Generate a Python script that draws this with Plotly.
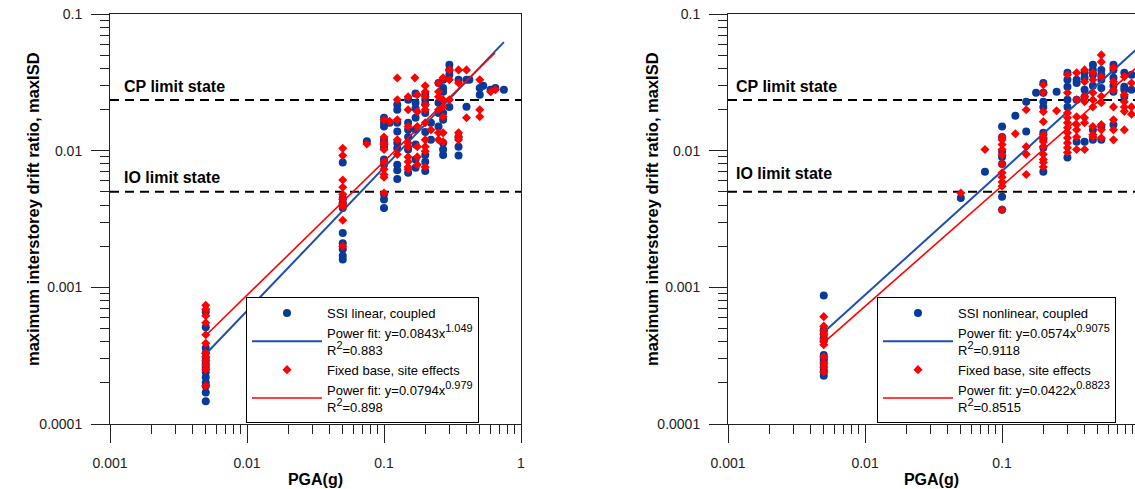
import plotly.graph_objects as go

# ---------------- data ----------------
# Left panel: SSI linear, coupled (blue) -- (PGA, [maxISD values])
left_ssi = [
    (0.005, [0.00066, 0.00051, 0.00036, 0.00033, 0.0003, 0.00028, 0.00026, 0.00024, 0.00022, 0.0002, 0.00019, 0.00017, 0.000147]),
    (0.05, [0.0082, 0.0045, 0.0042, 0.0040, 0.0038, 0.0025, 0.0021, 0.0019, 0.0017, 0.0016]),
    (0.075, [0.0117]),
    (0.1, [0.0174, 0.016, 0.015, 0.012, 0.0114, 0.0107, 0.0086, 0.0079, 0.0048, 0.0044, 0.0038]),
    (0.11, [0.0160]),
    (0.125, [0.0217, 0.0199, 0.016, 0.0138, 0.0114, 0.0104, 0.0079, 0.0072, 0.0062]),
    (0.15, [0.0236, 0.016, 0.0142, 0.0126, 0.0102, 0.0069]),
    (0.17, [0.0262, 0.0224, 0.0204, 0.0174, 0.0142, 0.0111, 0.0086, 0.0075]),
    (0.2, [0.0256, 0.0236, 0.0219, 0.0189, 0.0137, 0.0093, 0.0083, 0.0071]),
    (0.22, [0.016, 0.012]),
    (0.25, [0.0313, 0.0224, 0.0189, 0.015]),
    (0.27, [0.0330, 0.0288, 0.0270, 0.0189, 0.0168, 0.0114, 0.0102, 0.0093]),
    (0.3, [0.0425, 0.039, 0.0359, 0.0209]),
    (0.35, [0.033, 0.0126, 0.0107, 0.0092]),
    (0.4, [0.033, 0.021]),
    (0.42, [0.033]),
    (0.5, [0.0288, 0.0256]),
    (0.53, [0.0298]),
    (0.6, [0.0279]),
    (0.65, [0.0288]),
    (0.75, [0.0279]),
]
# Left panel: Fixed base, site effects (red)
left_fixed = [
    (0.005, [0.00074, 0.00069, 0.00062, 0.00055, 0.00045, 0.00039, 0.00033, 0.00031, 0.00029, 0.00027, 0.00025, 0.00019]),
    (0.05, [0.0104, 0.0092, 0.0061, 0.0054, 0.0048, 0.0044, 0.0041, 0.0039, 0.0031, 0.0020]),
    (0.075, [0.0112]),
    (0.1, [0.0168, 0.0126, 0.0114, 0.0111, 0.0102, 0.0083, 0.0073, 0.0067, 0.0064, 0.0049]),
    (0.11, [0.0164]),
    (0.125, [0.034, 0.0236, 0.0168, 0.0120, 0.0094]),
    (0.15, [0.0248, 0.0199, 0.0150, 0.0114, 0.0107, 0.0090, 0.0083, 0.0076, 0.0073]),
    (0.168, [0.0341]),
    (0.175, [0.0256, 0.0193, 0.0150, 0.0107, 0.0090, 0.0079]),
    (0.2, [0.0298, 0.0270, 0.0248, 0.0217, 0.0199, 0.0160, 0.0120, 0.0107, 0.0099, 0.0076]),
    (0.22, [0.0142]),
    (0.25, [0.0313, 0.0270, 0.0248, 0.0199, 0.0135, 0.0120]),
    (0.27, [0.0341, 0.0236, 0.0209, 0.0177, 0.0135, 0.0116]),
    (0.3, [0.039, 0.033, 0.0236]),
    (0.35, [0.039, 0.0313, 0.0135, 0.0120, 0.0126]),
    (0.4, [0.0390, 0.0174]),
    (0.5, [0.033, 0.0199, 0.0177]),
    (0.6, [0.0270]),
    (0.65, [0.0279]),
]
# Right panel: SSI nonlinear, coupled (blue)
right_ssi = [
    (0.005, [0.00087, 0.00049, 0.00046, 0.00043, 0.00041, 0.00032, 0.0003, 0.00029, 0.00027, 0.00025, 0.00024, 0.000225]),
    (0.05, [0.0045]),
    (0.075, [0.0070]),
    (0.1, [0.0150, 0.0126, 0.0098, 0.0090, 0.0080, 0.0046, 0.0037]),
    (0.125, [0.0180]),
    (0.15, [0.0228, 0.0138]),
    (0.177, [0.0265]),
    (0.2, [0.0313, 0.0265, 0.0228, 0.0209, 0.0135, 0.0121, 0.0105, 0.0070]),
    (0.25, [0.0270]),
    (0.3, [0.0371, 0.033, 0.0293, 0.0236, 0.0209, 0.0089]),
    (0.35, [0.033, 0.0313, 0.0236, 0.0116]),
    (0.4, [0.0371, 0.0341, 0.0279, 0.0248, 0.0116]),
    (0.46, [0.0425, 0.039, 0.0359, 0.0298, 0.0142, 0.0120]),
    (0.53, [0.039, 0.0359, 0.033, 0.0288, 0.0150, 0.0120]),
    (0.65, [0.0425, 0.039, 0.0341, 0.0298, 0.0270, 0.0155]),
    (0.78, [0.0371, 0.0293, 0.0279, 0.0248]),
    (0.88, [0.0359, 0.0279]),
]
# Right panel: Fixed base, site effects (red)
right_fixed = [
    (0.005, [0.00061, 0.00052, 0.00048, 0.00045, 0.00042, 0.0004, 0.00038, 0.00031, 0.00028, 0.00026, 0.00024]),
    (0.05, [0.0049]),
    (0.075, [0.0102]),
    (0.1, [0.0126, 0.012, 0.0111, 0.0102, 0.0093, 0.0080, 0.0069, 0.0064, 0.0059, 0.0055, 0.0037]),
    (0.125, [0.0133]),
    (0.15, [0.0199, 0.0107, 0.0094, 0.0067]),
    (0.2, [0.0303, 0.0265, 0.0193, 0.0163, 0.0131, 0.0124, 0.0116, 0.0107, 0.0094, 0.0086, 0.0082, 0.0076]),
    (0.25, [0.0196]),
    (0.3, [0.0359, 0.0265, 0.0189, 0.0174, 0.016, 0.0147, 0.0135, 0.0124, 0.0114, 0.0105, 0.0097]),
    (0.35, [0.0371, 0.0236, 0.0177, 0.0155, 0.0142, 0.0126, 0.0102]),
    (0.4, [0.039, 0.0320, 0.0248, 0.0228, 0.0174, 0.0160, 0.0102]),
    (0.46, [0.0371, 0.033, 0.0265, 0.0236, 0.0209, 0.0150, 0.0131, 0.0126]),
    (0.53, [0.0502, 0.0446, 0.0348, 0.0250, 0.0224, 0.0155, 0.0142, 0.0124]),
    (0.65, [0.0405, 0.0320, 0.0278, 0.0209, 0.0168, 0.0142, 0.0120]),
    (0.78, [0.0348, 0.0256, 0.0228, 0.0209, 0.0194, 0.0142]),
    (0.88, [0.0313, 0.0209, 0.0185]),
]

# Power-fit lines (end points of the straight log-log fits)
left_ssi_fit_x = [0.005, 0.75]
left_ssi_fit_y = [0.000325, 0.0623]
left_fixed_fit_x = [0.005, 0.646]
left_fixed_fit_y = [0.000444, 0.0518]
right_ssi_fit_x = [0.005, 1.0]
right_ssi_fit_y = [0.000469, 0.0574]
right_fixed_fit_x = [0.005, 1.0]
right_fixed_fit_y = [0.000394, 0.0422]

limit_cp = 0.0235
limit_io = 0.005

x_ticks = [0.001, 0.01, 0.1, 1]
x_tick_text = ["0.001", "0.01", "0.1", "1"]
y_ticks = [0.0001, 0.001, 0.01, 0.1]
y_tick_text = ["0.0001", "0.001", "0.01", "0.1"]

SUP = '<sup><span style="font-size:11px">{}</span></sup>'
legend_left = ["SSI linear, coupled",
               "Power fit: y=0.0843x" + SUP.format("1.049") + "<br>R" + SUP.format("2") + "=0.883",
               "Fixed base, site effects",
               "Power fit: y=0.0794x" + SUP.format("0.979") + "<br>R" + SUP.format("2") + "=0.898"]
legend_right = ["SSI nonlinear, coupled",
                "Power fit: y=0.0574x" + SUP.format("0.9075") + "<br>R" + SUP.format("2") + "=0.9118",
                "Fixed base, site effects",
                "Power fit: y=0.0422x" + SUP.format("0.8823") + "<br>R" + SUP.format("2") + "=0.8515"]

# ---------------- styling ----------------
W, H = 1135, 489
BLUE = "#073a9a"
BLUE_LINE = "#1f4fae"
RED = "#ff0000"
FONT = "Liberation Sans, Arial, sans-serif"


def flatten(groups):
    xs, ys = [], []
    for pga, vals in groups:
        for v in vals:
            xs.append(pga)
            ys.append(v)
    return xs, ys


minor_vals = [m * 10.0 ** e for e in range(-4, 1) for m in range(2, 10)]

fig = go.Figure()

panels = [
    ("x", "y", "legend", left_ssi, left_fixed,
     (left_ssi_fit_x, left_ssi_fit_y), (left_fixed_fit_x, left_fixed_fit_y), legend_left),
    ("x2", "y2", "legend2", right_ssi, right_fixed,
     (right_ssi_fit_x, right_ssi_fit_y), (right_fixed_fit_x, right_fixed_fit_y), legend_right),
]

for xa, ya, lg, ssi, fixed, sfit, ffit, names in panels:
    bx, by = flatten(ssi)
    rx, ry = flatten(fixed)
    fig.add_trace(go.Scatter(x=bx, y=by, mode="markers", name=names[0], legend=lg,
                             marker=dict(symbol="circle", size=8, color=BLUE),
                             xaxis=xa, yaxis=ya))
    fig.add_trace(go.Scatter(x=sfit[0], y=sfit[1], mode="lines", name=names[1], legend=lg,
                             line=dict(color=BLUE_LINE, width=2), xaxis=xa, yaxis=ya))
    fig.add_trace(go.Scatter(x=rx, y=ry, mode="markers", name=names[2], legend=lg,
                             marker=dict(symbol="diamond", size=7, color=RED),
                             xaxis=xa, yaxis=ya))
    fig.add_trace(go.Scatter(x=ffit[0], y=ffit[1], mode="lines", name=names[3], legend=lg,
                             line=dict(color=RED, width=1.6), xaxis=xa, yaxis=ya))
    for lim in (limit_cp, limit_io):
        fig.add_shape(type="line", xref=f"{xa} domain", yref=ya, x0=0, x1=1, y0=lim, y1=lim,
                      line=dict(color="black", width=2, dash="9px,6px"), layer="below")

# pixel geometry -> paper fractions
def px(v):
    return v / W


def py(v):
    return 1 - v / H


ydom = [py(424), py(14)]
xdom1 = [px(110), px(521)]
xdom2 = [px(728), 1.0]

axis_common = dict(type="log", showgrid=False, zeroline=False, showline=True, automargin=False,
                   linecolor="#222", linewidth=1, ticks="outside", ticklen=18, tickwidth=1,
                   tickcolor="#222", tickfont=dict(family=FONT, size=14, color="#222"),
                   minor=dict(tickvals=minor_vals, ticks="outside", ticklen=9,
                              tickwidth=1, tickcolor="#222", showgrid=False))

xcommon = dict(axis_common, tickvals=x_ticks, ticktext=x_tick_text, ticklabelstandoff=8,
               title=dict(text="<b>PGA(g)</b>", font=dict(family=FONT, size=16, color="black"),
                          standoff=4))
ycommon = dict(axis_common, tickvals=y_ticks, ticktext=y_tick_text, ticklabelstandoff=6,
               range=[-4, -1])

fig.update_layout(
    width=W, height=H,
    margin=dict(l=0, r=0, t=0, b=0, autoexpand=False),
    paper_bgcolor="white", plot_bgcolor="white",
    font=dict(family=FONT, size=13, color="black"),
    xaxis=dict(xcommon, domain=xdom1, range=[-3, 0], anchor="y", mirror=True),
    yaxis=dict(ycommon, domain=ydom, anchor="x", mirror=True),
    xaxis2=dict(xcommon, domain=xdom2, range=[-3, -0.03], anchor="y2", mirror=True),
    yaxis2=dict(ycommon, domain=ydom, anchor="x2", mirror=False),
    legend=dict(x=px(246), y=py(297), xanchor="left", yanchor="top",
                bgcolor="white", bordercolor="black", borderwidth=1,
                font=dict(family=FONT, size=13, color="black"), itemwidth=70,
                tracegroupgap=0),
    legend2=dict(x=px(877), y=py(297), xanchor="left", yanchor="top",
                 bgcolor="white", bordercolor="black", borderwidth=1,
                 font=dict(family=FONT, size=13, color="black"), itemwidth=70,
                 tracegroupgap=0),
)

# y-axis titles
for xt in (33, 652):
    fig.add_annotation(text="<b>maximum interstorey drift ratio, maxISD</b>",
                       xref="paper", yref="paper", x=px(xt), y=py(209),
                       xanchor="center", yanchor="middle", textangle=-90, showarrow=False,
                       font=dict(family=FONT, size=16.5, color="black"))

ann_font = dict(family=FONT, size=16, color="black")
for x0, y_cp, y_io in ((122, 87, 177), (734, 86, 174)):
    fig.add_annotation(text="<b>CP limit state</b>", xref="paper", yref="paper",
                       x=px(x0), y=py(y_cp), xanchor="left", yanchor="middle",
                       showarrow=False, font=ann_font)
    fig.add_annotation(text="<b>IO limit state</b>", xref="paper", yref="paper",
                       x=px(x0), y=py(y_io), xanchor="left", yanchor="middle",
                       showarrow=False, font=ann_font)

fig.write_html("out.html")
